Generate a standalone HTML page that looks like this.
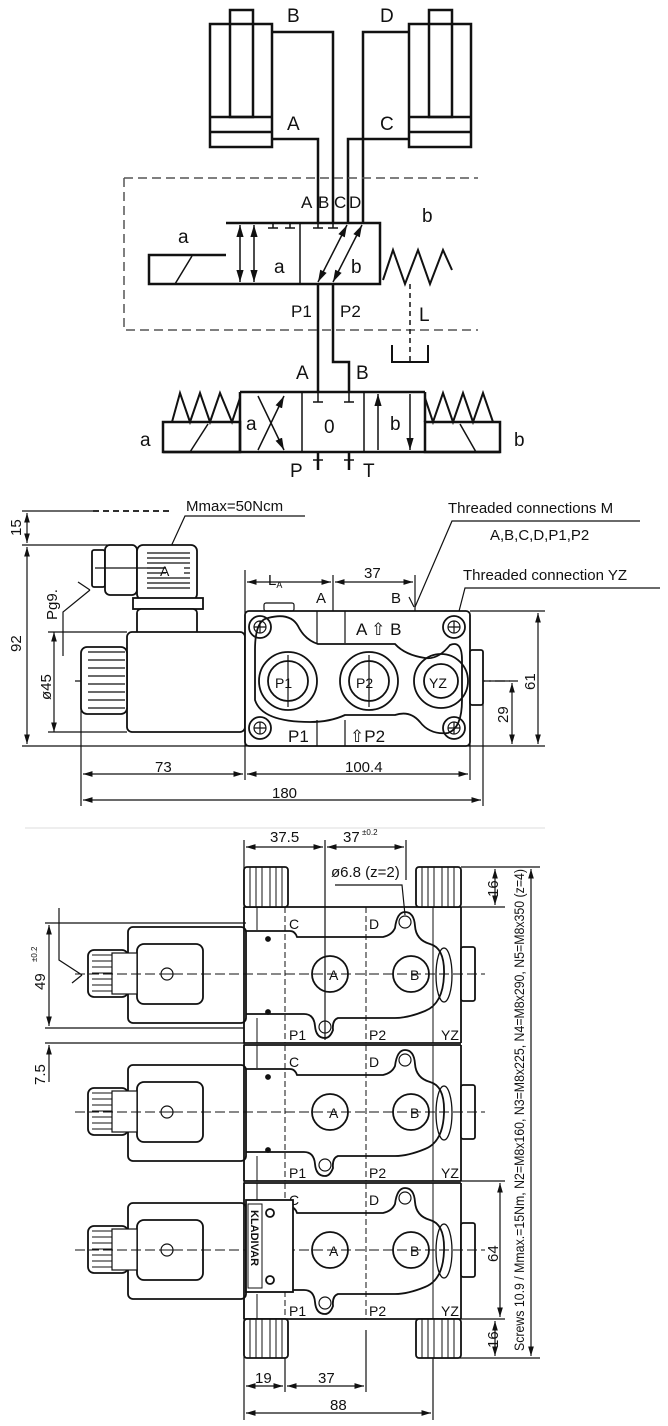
<!DOCTYPE html>
<html><head><meta charset="utf-8"><style>
html,body{margin:0;padding:0;background:#fff}
svg{display:block}
text{font-family:"Liberation Sans",Arial,sans-serif;fill:#111}
</style></head><body>
<svg width="668" height="1426" viewBox="0 0 668 1426" xmlns="http://www.w3.org/2000/svg">
<defs>
<marker id="ar" viewBox="0 0 10 10" refX="10" refY="5" markerWidth="8" markerHeight="8" orient="auto-start-reverse"><path d="M0,2 L10,5 L0,8 z" fill="#111"/></marker>
</defs>
<g stroke="#111" stroke-width="2.5" fill="none">
<rect x="210" y="24" width="62" height="123"/>
<rect x="230" y="10" width="23" height="107"/>
<line x1="210" y1="117" x2="272" y2="117"/>
<line x1="210" y1="132" x2="272" y2="132"/>
<rect x="409" y="24" width="62" height="123"/>
<rect x="429" y="10" width="23" height="107"/>
<line x1="409" y1="117" x2="471" y2="117"/>
<line x1="409" y1="132" x2="471" y2="132"/>
<polyline points="272,32 333,32 333,223"/>
<polyline points="272,139 318,139 318,223"/>
<polyline points="409,32 363,32 363,223"/>
<polyline points="409,139 348,139 348,223"/>
<polyline points="226,223 380,223 380,284 149,284 149,255 226,255"/>
<line x1="175" y1="284" x2="192" y2="256" stroke-width="1.5"/>
<line x1="300" y1="223" x2="300" y2="284" stroke-width="1.5"/>
<polyline points="383,280 393,250 405,284 418,250 430,284 443,250 452,270" stroke-width="2"/>
<polyline points="318,284 318,392"/>
<polyline points="333,284 333,362 349,362 349,392"/>
<polyline points="240,392 425,392"/>
<line x1="240" y1="392" x2="240" y2="452"/>
<rect x="163" y="422" width="77" height="30"/>
<line x1="163" y1="452" x2="500" y2="452"/>
<rect x="425" y="422" width="75" height="30"/>
<line x1="425" y1="392" x2="425" y2="422"/>
<polyline points="172,422 180,393 190,422 200,393 210,422 220,393 232,422 240,398" stroke-width="2"/>
<polyline points="425,398 433,422 443,393 453,422 463,393 473,422 483,393 493,422" stroke-width="2"/>
<line x1="302" y1="392" x2="302" y2="452" stroke-width="1.5"/>
<line x1="364" y1="392" x2="364" y2="452" stroke-width="1.5"/>
<line x1="190" y1="452" x2="208" y2="424" stroke-width="1.5"/>
<line x1="460" y1="424" x2="476" y2="452" stroke-width="1.5"/>
<line x1="318" y1="452" x2="318" y2="470"/>
<line x1="349" y1="452" x2="349" y2="470"/>
</g>
<g stroke="#111" stroke-width="1.5" fill="none">
<line x1="240" y1="225" x2="240" y2="282" marker-start="url(#ar)" marker-end="url(#ar)"/>
<line x1="254" y1="225" x2="254" y2="282" marker-start="url(#ar)" marker-end="url(#ar)"/>
<line x1="318" y1="282" x2="347" y2="225" marker-start="url(#ar)" marker-end="url(#ar)"/>
<line x1="333" y1="282" x2="362" y2="225" marker-start="url(#ar)" marker-end="url(#ar)"/>
<path d="M268,228h10M273,228v-6M285,228h10M290,228v-6M313,228h10M318,228v-6M328,228h10M333,228v-6"/>
<line x1="258" y1="450" x2="284" y2="396" marker-end="url(#ar)"/>
<line x1="258" y1="396" x2="284" y2="450" marker-end="url(#ar)"/>
<line x1="378" y1="450" x2="378" y2="394" marker-end="url(#ar)"/>
<line x1="410" y1="394" x2="410" y2="450" marker-end="url(#ar)"/>
<path d="M313,402h10M318,392v10M344,402h10M349,392v10M313,460h10M344,460h10"/>
<path d="M124,178 H478 M124,178 V330 H478" stroke-dasharray="9,5" stroke="#555"/>
<path d="M410,284 V362" stroke-dasharray="5,4"/>
<polyline points="392,345 392,362 428,362 428,345" stroke-width="2"/>
</g>
<g font-size="19">
<text x="287" y="22">B</text><text x="380" y="22">D</text>
<text x="287" y="130">A</text><text x="380" y="130">C</text>
<text x="301" y="208" font-size="17">A</text><text x="318" y="208" font-size="17">B</text><text x="334" y="208" font-size="17">C</text><text x="349" y="208" font-size="17">D</text>
<text x="422" y="222">b</text><text x="178" y="243">a</text>
<text x="274" y="273">a</text><text x="351" y="273">b</text>
<text x="291" y="317" font-size="17">P1</text><text x="340" y="317" font-size="17">P2</text>
<text x="419" y="321">L</text>
<text x="296" y="379">A</text><text x="356" y="379">B</text>
<text x="246" y="430">a</text><text x="324" y="433">0</text><text x="390" y="430">b</text>
<text x="140" y="446">a</text><text x="514" y="446">b</text>
<text x="290" y="477">P</text><text x="363" y="477">T</text>
</g>

<g stroke="#111" stroke-width="1.2" fill="none">
<path d="M93,511 H171" stroke-dasharray="6,4" stroke-width="1.8"/>
<line x1="22" y1="511" x2="93" y2="511"/>
<line x1="22" y1="545" x2="110" y2="545"/>
<line x1="22" y1="746" x2="545" y2="746"/>
<line x1="470" y1="611" x2="545" y2="611"/>
<line x1="27" y1="513" x2="27" y2="543" marker-start="url(#ar)" marker-end="url(#ar)"/>
<line x1="27" y1="547" x2="27" y2="744" marker-start="url(#ar)" marker-end="url(#ar)"/>
<line x1="54" y1="632" x2="54" y2="732" marker-start="url(#ar)" marker-end="url(#ar)"/>
<line x1="48" y1="632" x2="127" y2="632"/><line x1="48" y1="732" x2="127" y2="732"/>
<line x1="538" y1="613" x2="538" y2="744" marker-start="url(#ar)" marker-end="url(#ar)"/>
<line x1="512" y1="683" x2="512" y2="744" marker-start="url(#ar)" marker-end="url(#ar)"/>
<line x1="484" y1="681" x2="518" y2="681"/>
<line x1="81" y1="700" x2="81" y2="806"/>
<line x1="245" y1="570" x2="245" y2="780"/>
<line x1="470" y1="700" x2="470" y2="780"/>
<line x1="483" y1="700" x2="483" y2="806"/>
<line x1="333" y1="575" x2="333" y2="612"/>
<line x1="415" y1="575" x2="415" y2="612"/>
<line x1="83" y1="774" x2="243" y2="774" marker-start="url(#ar)" marker-end="url(#ar)"/>
<line x1="247" y1="774" x2="468" y2="774" marker-start="url(#ar)" marker-end="url(#ar)"/>
<line x1="83" y1="800" x2="481" y2="800" marker-start="url(#ar)" marker-end="url(#ar)"/>
<line x1="247" y1="582" x2="331" y2="582" marker-start="url(#ar)" marker-end="url(#ar)"/>
<line x1="335" y1="582" x2="413" y2="582" marker-start="url(#ar)" marker-end="url(#ar)"/>
<polyline points="305,516 185,516 168,553" /><line x1="161" y1="546" x2="168" y2="553"/>
<polyline points="640,521 452,521 415,607"/>
<polyline points="660,588 465,588 441,681"/>
<polyline points="63,656 63,612 90,590"/><line x1="78" y1="582" x2="90" y2="590"/>
<line x1="409" y1="597" x2="414" y2="607"/>
<path d="M75,681 H510" stroke-dasharray="10,4,2,4"/>
</g>
<g stroke="#111" stroke-width="1.8" fill="#fff">
<rect x="92" y="550" width="13" height="37" rx="2"/>
<rect x="105" y="545" width="32" height="50" rx="5"/>
<rect x="137" y="545" width="60" height="55" rx="6"/>
<rect x="133" y="598" width="70" height="11"/>
<rect x="137" y="609" width="60" height="30" rx="4"/>
<rect x="127" y="632" width="118" height="100" rx="5"/>
<rect x="81" y="647" width="46" height="67" rx="6"/>
<rect x="245" y="611" width="225" height="135" rx="4"/>
<rect x="470" y="650" width="13" height="55" rx="2"/>
<path d="M268,618 Q290,612 298,626 Q305,640 318,644 H395 Q405,655 425,658 Q438,660 450,645 Q462,640 462,660 V700 Q462,728 448,733 Q430,735 420,722 Q410,710 395,715 H345 Q330,722 310,722 Q262,722 255,700 V650 Q255,620 268,618 Z" fill="none"/>
</g>
<g stroke="#111" stroke-width="1.2" fill="none">
<path d="M317,611 V643 M345,611 V643 M317,720 V746 M345,720 V746"/>
<path d="M88,652 H125 M88,660 H125 M88,668 H125 M88,676 H125 M88,684 H125 M88,692 H125 M88,700 H125 M88,708 H125" stroke-width="1.3"/>
<path d="M147,553 H190 M147,558 H190 M147,563 H190 M147,568 H166 M184,568 H190 M147,573 H166 M184,573 H190 M147,578 H190 M147,583 H190 M147,588 H190" stroke-width="1.2"/>
<path d="M95,568 H166" />
<circle cx="288" cy="681" r="29" stroke-width="1.8"/><circle cx="288" cy="681" r="20" stroke-width="1.8"/>
<circle cx="369" cy="681" r="29" stroke-width="1.8"/><circle cx="369" cy="681" r="20" stroke-width="1.8"/>
<circle cx="441" cy="681" r="27" stroke-width="1.8"/><circle cx="441" cy="681" r="17" stroke-width="1.8"/>
<circle cx="260" cy="627" r="11" stroke-width="1.8"/><circle cx="260" cy="627" r="6"/>
<circle cx="454" cy="627" r="11" stroke-width="1.8"/><circle cx="454" cy="627" r="6"/>
<circle cx="260" cy="728" r="11" stroke-width="1.8"/><circle cx="260" cy="728" r="6"/>
<circle cx="454" cy="728" r="11" stroke-width="1.8"/><circle cx="454" cy="728" r="6"/>
<path d="M288,655V707 M369,655V707 M254,627h12M260,621v12 M448,627h12M454,621v12 M254,728h12M260,722v12 M448,728h12M454,722v12"/>
<rect x="264" y="603" width="30" height="8" rx="2" stroke-width="1.2"/>
</g>
<g font-size="15">
<text x="186" y="511">Mmax=50Ncm</text>
<text x="448" y="513">Threaded connections M</text>
<text x="490" y="540">A,B,C,D,P1,P2</text>
<text x="463" y="580">Threaded connection YZ</text>
<text x="160" y="576" font-size="14">A</text>
<text x="268" y="585">L<tspan font-size="9" dy="3">A</tspan></text>
<text x="364" y="578">37</text>
<text x="316" y="603">A</text><text x="391" y="603">B</text>
<text x="356" y="635" font-size="17" fill="#555">A ⇧ B</text>
<text x="275" y="688" font-size="14">P1</text><text x="356" y="688" font-size="14">P2</text><text x="429" y="688" font-size="14">YZ</text>
<text x="288" y="742" font-size="17" fill="#333">P1</text><text x="350" y="742" font-size="17" fill="#333">⇧P2</text>
<text x="155" y="772">73</text><text x="345" y="772">100.4</text><text x="272" y="798">180</text>
<text transform="translate(21,536) rotate(-90)">15</text>
<text transform="translate(21,652) rotate(-90)">92</text>
<text transform="translate(51,700) rotate(-90)">ø45</text>
<text transform="translate(57,620) rotate(-90)">Pg9.</text>
<text transform="translate(535,690) rotate(-90)">61</text>
<text transform="translate(508,723) rotate(-90)">29</text>
</g>

<line x1="25" y1="828" x2="545" y2="828" stroke="#ddd" stroke-width="1"/>
<g stroke="#111" stroke-width="1.2" fill="none">
<line x1="244" y1="840" x2="244" y2="1420"/>
<line x1="325" y1="840" x2="325" y2="1040"/>
<line x1="406" y1="840" x2="406" y2="880"/>
<line x1="246" y1="847" x2="323" y2="847" marker-start="url(#ar)" marker-end="url(#ar)"/>
<line x1="327" y1="847" x2="404" y2="847" marker-start="url(#ar)" marker-end="url(#ar)"/>
<polyline points="335,885 402,885 405,915"/>
<line x1="461" y1="867" x2="540" y2="867"/>
<line x1="461" y1="907" x2="505" y2="907"/>
<line x1="461" y1="1181" x2="505" y2="1181"/>
<line x1="461" y1="1319" x2="505" y2="1319"/>
<line x1="434" y1="1358" x2="540" y2="1358"/>
<line x1="495" y1="869" x2="495" y2="905" marker-start="url(#ar)" marker-end="url(#ar)"/>
<line x1="531" y1="869" x2="531" y2="1356" marker-start="url(#ar)" marker-end="url(#ar)"/>
<line x1="500" y1="1183" x2="500" y2="1317" marker-start="url(#ar)" marker-end="url(#ar)"/>
<line x1="495" y1="1321" x2="495" y2="1356" marker-start="url(#ar)" marker-end="url(#ar)"/>
<line x1="45" y1="923" x2="246" y2="923"/>
<line x1="45" y1="1028" x2="244" y2="1028"/>
<line x1="45" y1="1043" x2="244" y2="1043"/>
<line x1="49" y1="925" x2="49" y2="1026" marker-start="url(#ar)" marker-end="url(#ar)"/>
<line x1="49" y1="1082" x2="49" y2="1045" marker-end="url(#ar)"/>
<polyline points="59,908 59,960 82,975"/><line x1="72" y1="983" x2="82" y2="975"/>
<line x1="285" y1="1330" x2="285" y2="1392"/>
<line x1="366" y1="1330" x2="366" y2="1392"/>
<line x1="433" y1="1330" x2="433" y2="1420"/>
<line x1="246" y1="1386" x2="283" y2="1386" marker-start="url(#ar)" marker-end="url(#ar)"/>
<line x1="287" y1="1386" x2="364" y2="1386" marker-start="url(#ar)" marker-end="url(#ar)"/>
<line x1="246" y1="1413" x2="431" y2="1413" marker-start="url(#ar)" marker-end="url(#ar)"/>
</g>
<g id="mod" stroke="#111" fill="#fff" stroke-width="1.8">
<rect x="128" y="927" width="118" height="96" rx="5"/>
<rect x="137" y="944" width="66" height="60" rx="7"/>
<rect x="88" y="950" width="40" height="47" rx="6"/>
<path d="M92,955H128M92,961H128M92,967H128M92,973H128M92,979H128M92,985H128M92,991H128" fill="none" stroke-width="1"/>
<rect x="112" y="953" width="25" height="41" fill="#fff" stroke-width="1.2"/>
<circle cx="167" cy="974" r="6" fill="none" stroke-width="1.2"/><line x1="161" y1="974" x2="173" y2="974" stroke-width="1"/>
<line x1="244" y1="907" x2="461" y2="907"/>
<line x1="244" y1="907" x2="244" y2="1043"/><line x1="461" y1="907" x2="461" y2="1043"/>
<line x1="244" y1="1043" x2="461" y2="1043"/>
<path d="M246,931 H290 Q295,931 297,937 H383 Q392,935 395,928 Q397,912 405,912 Q414,912 415,926 Q416,940 430,944 Q445,948 444,975 Q443,1004 425,1011 Q408,1018 395,1018 H338 Q332,1020 333,1030 Q330,1038 325,1038 Q316,1038 315,1026 Q314,1014 304,1014 H246" fill="none"/>
<ellipse cx="444" cy="975" rx="8" ry="27" fill="none" stroke-width="1.3"/>
<rect x="461" y="947" width="14" height="54" rx="2"/>
<circle cx="330" cy="974" r="18" fill="none"/><circle cx="411" cy="974" r="18" fill="none"/>
<circle cx="405" cy="922" r="6" fill="none" stroke-width="1.2"/><circle cx="325" cy="1027" r="6" fill="none" stroke-width="1.2"/>
<path d="M75,974H485" stroke-dasharray="10,4" fill="none" stroke-width="1"/>
<path d="M285,907V1043M366,907V1043" stroke-dasharray="6,3" fill="none" stroke-width="1"/>
<path d="M433,907V1043M257,907V930M257,1018V1043" fill="none" stroke-width="1"/>
<circle cx="268" cy="939" r="2" fill="#111"/><circle cx="268" cy="1012" r="2" fill="#111"/>
<g font-size="14" stroke="none" fill="#111">
<text x="289" y="929">C</text><text x="369" y="929">D</text>
<text x="289" y="1040">P1</text><text x="369" y="1040">P2</text><text x="441" y="1040">YZ</text>
<text x="329" y="980">A</text><text x="410" y="980">B</text>
</g>
</g>
<use href="#mod" y="138"/>
<use href="#mod" y="276"/>
<g stroke="#111" stroke-width="1.8">
<rect x="246" y="1200" width="47" height="92" fill="#fff"/>
<rect x="248" y="1204" width="14" height="84" fill="#fff" stroke-width="1"/>
<circle cx="270" cy="1213" r="4" fill="none"/><circle cx="270" cy="1280" r="4" fill="none"/>
</g>
<text transform="translate(251,1210) rotate(90)" font-size="11" font-weight="bold">KLADIVAR</text>
<g stroke="#111" stroke-width="1.8" fill="#fff">
<rect x="244" y="867" width="44" height="40" rx="3"/>
<rect x="416" y="867" width="45" height="40" rx="3"/>
<rect x="244" y="1319" width="44" height="39" rx="3"/>
<rect x="416" y="1319" width="45" height="39" rx="3"/>
<path d="M250,867V907M256,867V907M262,867V907M270,867V907M276,867V907M282,867V907 M422,867V907M428,867V907M434,867V907M442,867V907M448,867V907M454,867V907 M250,1319V1358M256,1319V1358M262,1319V1358M270,1319V1358M276,1319V1358M282,1319V1358 M422,1319V1358M428,1319V1358M434,1319V1358M442,1319V1358M448,1319V1358M454,1319V1358" stroke-width="1" fill="none"/>
</g>
<g font-size="15">
<text x="270" y="842">37.5</text>
<text x="343" y="842">37</text><text x="362" y="835" font-size="8">±0.2</text>
<text x="331" y="877">ø6.8 (z=2)</text>
<text x="255" y="1383">19</text><text x="318" y="1383">37</text><text x="330" y="1410">88</text>
<text transform="translate(45,990) rotate(-90)">49</text>
<text transform="translate(37,962) rotate(-90)" font-size="8">±0.2</text>
<text transform="translate(45,1085) rotate(-90)">7.5</text>
<text transform="translate(498,897) rotate(-90)">16</text>
<text transform="translate(498,1348) rotate(-90)">16</text>
<text transform="translate(498,1262) rotate(-90)">64</text>
<text transform="translate(524,1351) rotate(-90)" font-size="13.5" textLength="482" lengthAdjust="spacingAndGlyphs">Screws 10.9 / Mmax.=15Nm, N2=M8x160, N3=M8x225, N4=M8x290, N5=M8x350 (z=4)</text>
</g>
</svg>
</body></html>
